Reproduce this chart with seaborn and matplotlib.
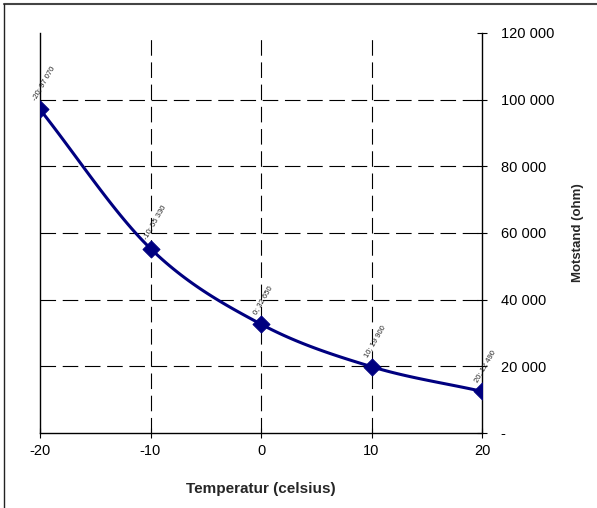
import numpy as np
import pandas as pd
import seaborn as sns
import matplotlib.pyplot as plt
from matplotlib.lines import Line2D
from matplotlib.ticker import FuncFormatter

# data
temperatur = [-20, -10, 0, 10, 20]
motstand = [97070, 55330, 32650, 19900, 12490]
etiketter = ['-20; 97 070', '-10; 55 330', '0; 32 650', '10; 19 900', '20; 12 490']

sns.set_theme(style='white')
plt.rcParams['font.family'] = ['Liberation Sans', 'DejaVu Sans']
plt.rcParams['axes.unicode_minus'] = False

df = pd.DataFrame({'temp': temperatur, 'ohm': motstand})


# smooth curve through the points (Catmull-Rom, like Excel's smoothed line)
def smooth(x, y, n=30):
    x = np.asarray(x, float)
    y = np.asarray(y, float)
    px = np.concatenate([[2 * x[0] - x[1]], x, [2 * x[-1] - x[-2]]])
    py = np.concatenate([[2 * y[0] - y[1]], y, [2 * y[-1] - y[-2]]])
    xs, ys = [], []
    t = np.linspace(0, 1, n)
    for i in range(1, len(px) - 2):
        for p, out in ((px, xs), (py, ys)):
            p0, p1, p2, p3 = p[i - 1], p[i], p[i + 1], p[i + 2]
            out.extend(0.5 * (2 * p1 + (-p0 + p2) * t
                              + (2 * p0 - 5 * p1 + 4 * p2 - p3) * t ** 2
                              + (-p0 + 3 * p1 - 3 * p2 + p3) * t ** 3))
    return np.array(xs), np.array(ys)


fig = plt.figure(figsize=(5.97, 5.08), dpi=100)
ax = fig.add_axes([40 / 597, 75 / 508, 442 / 597, 400 / 508])

sx, sy = smooth(df['temp'], df['ohm'])
sns.lineplot(x=sx, y=sy, ax=ax, color='#000080', linewidth=2.2, sort=False)
sns.scatterplot(data=df, x='temp', y='ohm', ax=ax, marker='D', s=75,
                color='#000080', edgecolor='#000080', zorder=5)

for x, y, lab in zip(df['temp'], df['ohm'], etiketter):
    ax.annotate(lab, (x, y), xytext=(-2, 6), textcoords='offset points',
                rotation=60, rotation_mode='anchor', ha='left', va='bottom',
                fontsize=5.5, color='#222222')

ax.set_xlim(-20, 20)
ax.set_ylim(0, 120000)
ax.set_xticks(temperatur)
ax.set_yticks(range(0, 120001, 20000))
ax.yaxis.set_major_formatter(FuncFormatter(
    lambda v, p: '-' if v == 0 else f'{int(v):,}'.replace(',', ' ')))
ax.yaxis.tick_right()
ax.yaxis.set_label_position('right')

for v in [20000, 40000, 60000, 80000, 100000]:
    ax.axhline(v, color='black', lw=0.8, ls=(0, (14, 6)), zorder=1)
for v in [-10, 0, 10]:
    ax.axvline(v, color='black', lw=0.8, ls=(0, (14, 6)), zorder=1)

ax.spines['top'].set_visible(False)
for s in ['left', 'right', 'bottom']:
    ax.spines[s].set_color('black')
    ax.spines[s].set_linewidth(1)

ax.tick_params(axis='both', direction='inout', length=7, width=0.8,
               colors='black', labelsize=10.5, bottom=True, right=True, left=False)
ax.tick_params(axis='y', pad=10)
ax.tick_params(axis='x', pad=4.5)
ax.set_xlabel('Temperatur (celsius)', fontsize=11, fontweight='bold', labelpad=17)
ax.set_ylabel('Motstand (ohm)', fontsize=9.5, fontweight='bold', labelpad=13)

# outer frame: only top and left edges are visible
fig.add_artist(Line2D([4 / 597, 1], [1 - 4 / 508, 1 - 4 / 508], transform=fig.transFigure,
                      color='#444444', linewidth=1.5))
fig.add_artist(Line2D([4 / 597, 4 / 597], [0, 1 - 4 / 508], transform=fig.transFigure,
                      color='#222222', linewidth=1))

fig.savefig('out.png', dpi=100)
